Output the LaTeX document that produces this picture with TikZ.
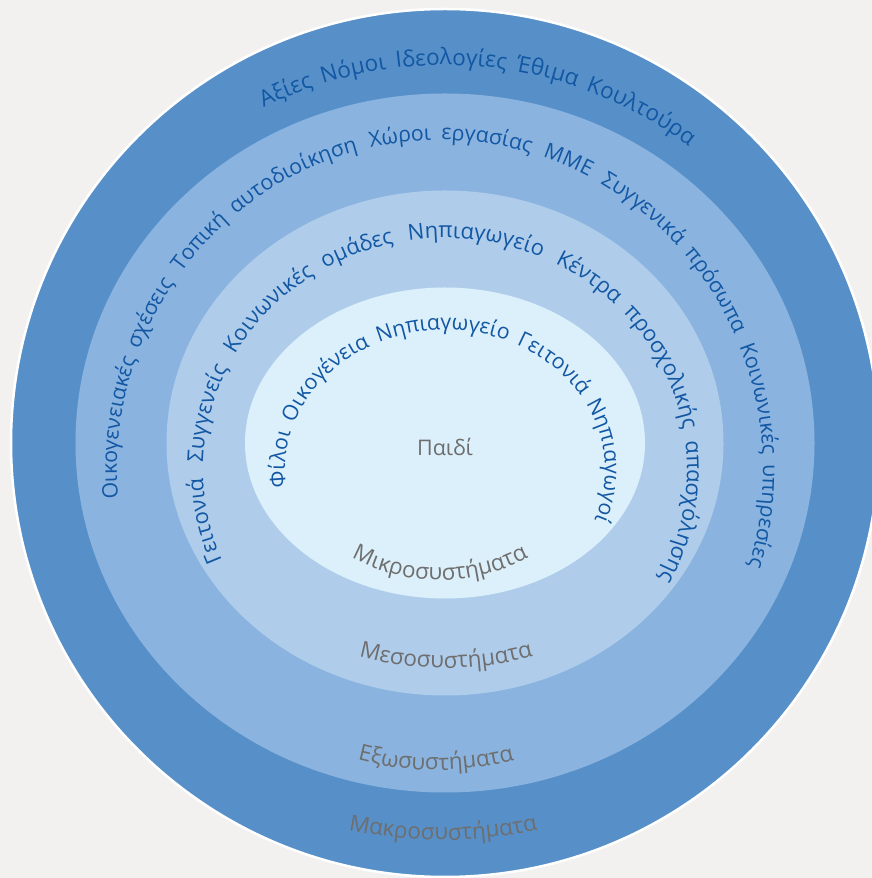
\documentclass[tikz,border=0pt]{standalone}
\usepackage{fontspec}
\setmainfont{Open Sans}
\usetikzlibrary{decorations.text}

\definecolor{bgpaper}{HTML}{F2F1EF}
\definecolor{macrofill}{HTML}{5790C9}
\definecolor{exofill}{HTML}{8AB4DF}
\definecolor{mesofill}{HTML}{AFCDEB}
\definecolor{microfill}{HTML}{DCF0FB}
\definecolor{ringtext}{HTML}{1257A3}
\definecolor{leveltext}{HTML}{6E6E6E}

\newcommand\ringsize{21.3}
\newcommand\ringfont{\color{ringtext}\fontsize{\ringsize}{25}\selectfont}
\newcommand\levelfont{\color{leveltext}\fontsize{22.5}{26}\selectfont}
\newcommand\itemgap{\hskip 3pt}

\begin{document}
\begin{tikzpicture}[x=1pt,y=1pt,
  ringlabel/.style 2 args={decorate, decoration={text along path,
      text align={fit to path stretching spaces},
      text={|\renewcommand\ringsize{#1}\ringfont|#2}}},
  levellabel/.style={decorate, decoration={text along path,
      text align=center, text={|\levelfont|#1}}}]

% canvas
\fill[bgpaper] (0,0) rectangle (872,878);
\useasboundingbox (0,0) rectangle (872,878);

\coordinate (c) at (445,435);   % centre of the rings
\coordinate (t) at (445,408);   % centre of the curved ring captions

% nested systems
\fill[macrofill, draw=white, line width=2.5pt] (c) circle[radius=434pt];
\fill[exofill]   (c) ellipse[x radius=369.5pt, y radius=349.5pt];
\fill[mesofill]  (c) ellipse[x radius=278.5pt, y radius=252.5pt];
\fill[microfill] (c) ellipse[x radius=200pt,   y radius=155.5pt];

% captions running round each ring
\path[ringlabel={22.5}{Αξίες {\itemgap}Νόμοι {\itemgap}Ιδεολογίες {\itemgap}Έθιμα {\itemgap}Κουλτούρα}]
  (t) ++(116.6:405pt) arc[start angle=116.6, end angle=53, radius=405pt];

\path[ringlabel={21.3}{Οικογενειακές σχέσεις {\itemgap}Τοπική αυτοδιοίκηση {\itemgap}Χώροι εργασίας {\itemgap}ΜΜΕ {\itemgap}Συγγενικά πρόσωπα {\itemgap}Κοινωνικές υπηρεσίες}]
  (440,408) ++(185:323pt and 330pt) arc[start angle=185, end angle=-17, x radius=323pt, y radius=330pt];

\path[ringlabel={21.9}{Γειτονιά {\itemgap}Συγγενείς {\itemgap}Κοινωνικές ομάδες {\itemgap}Νηπιαγωγείο {\itemgap}Κέντρα προσχολικής απασχόλησης}]
  (t) ++(203:242pt and 232pt) arc[start angle=203, end angle=-28, x radius=242pt, y radius=232pt];

\path[ringlabel={21.3}{Φίλοι {\itemgap}Οικογένεια {\itemgap}Νηπιαγωγείο {\itemgap}Γειτονιά {\itemgap}Νηπιαγωγοί}]
  (t) ++(187:160pt and 140pt) arc[start angle=187, end angle=-21, x radius=160pt, y radius=140pt];

% level names along the lower edge of each ring
\path[levellabel={Μικροσυστήματα}]
  (440,485) ++(235:187pt) arc[start angle=235, end angle=305, radius=187pt];
\path[levellabel={Μεσοσυστήματα}]
  (446,544) ++(240:334pt) arc[start angle=240, end angle=300, radius=334pt];
\path[levellabel={Εξωσυστήματα}]
  (436,417) ++(240:309pt) arc[start angle=240, end angle=300, radius=309pt];
\path[levellabel={Μακροσυστήματα}]
  (443,494) ++(245:456pt) arc[start angle=245, end angle=295, radius=456pt];

\node[text=leveltext, font=\fontsize{21.5}{25}\selectfont] (child) at (445,431) {Παιδί};

\end{tikzpicture}
\end{document}
